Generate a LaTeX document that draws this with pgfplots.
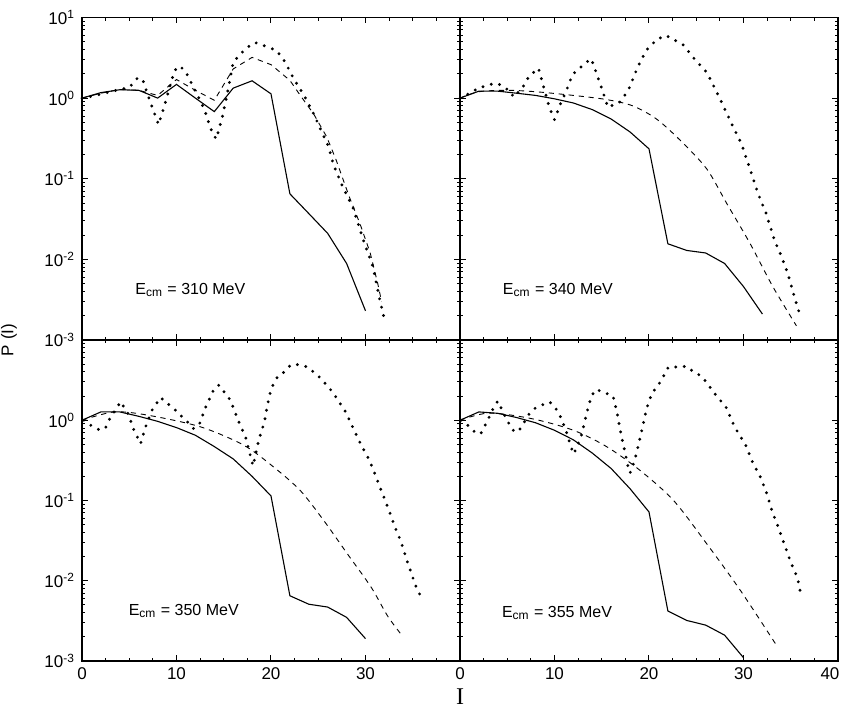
\documentclass[border=0pt]{standalone}
\usepackage{pgfplots}
\pgfplotsset{compat=1.18}
\usepackage{fontspec}
\setmainfont{Liberation Sans}
\newfontfamily\seriffont{Liberation Serif}
\pgfkeys{/pgf/number format/assume math mode=true}
\pgfplotsset{
  every axis/.append style={
    scale only axis, width=189pt,
    xmin=0, xmax=40, ymin=1e-3, ymax=10,
    xtick={0,10,20,30,40}, minor x tick num=3,
    ytick={1e-3,1e-2,1e-1,1,10},
    tick align=inside, major tick length=3pt, minor tick length=1.6pt,
    axis line style={line width=0.75pt},
    tick style={black, line width=0.5pt},
    tick label style={font=\fontsize{8.5}{10}\selectfont},
    clip=false,
  },
}
\tikzset{
  mysol/.style={black, line width=0.55pt},
  mydsh/.style={black, line width=0.45pt, dash pattern=on 2.6pt off 2.4pt},
  mydot/.style={black, line width=1.6pt, line cap=round, dash pattern=on 0pt off 4.3pt},
}
\newcommand{\lab}[1]{\fontsize{8}{10}\selectfont E\textsubscript{cm} = #1 MeV}
\begin{document}
\begin{tikzpicture}
\useasboundingbox (0,0) rectangle (421.5pt,-357.5pt);
% ---------------- top left: 310 MeV
\begin{semilogyaxis}[height=161.25pt, at={(41pt,-170pt)}, anchor=south west,
  xticklabels={},
  yticklabels={10\textsuperscript{-3},10\textsuperscript{-2},10\textsuperscript{-1},10\textsuperscript{0},10\textsuperscript{1}}]
\addplot[mysol, no marks] coordinates {(0,1.0)(2,1.17)(4,1.27)(6,1.25)(7,1.12)(8,1.0)(10,1.48)(12,1.0)(14,0.68)(16,1.33)(18,1.64)(20,1.13)(22,0.065)(24,0.037)(26,0.021)(28,0.0089)(30,0.0023)};
\addplot[mydsh, no marks] coordinates {(0,1.0)(2,1.15)(4,1.28)(6,1.25)(8,1.08)(10,1.7)(12,1.25)(14,0.94)(16,2.3)(18,3.2)(20,2.6)(22,1.66)(23.1,1.08)(24.5,0.64)(25.9,0.33)(26.9,0.17)(28.3,0.059)(29.4,0.028)(30.5,0.012)(31.3,0.005)(31.7,0.003)};
\addplot[mydot, no marks] coordinates {(0,1.0)(1,1.05)(2,1.12)(3,1.2)(4,1.28)(5,1.35)(5.8,1.74)(6.4,1.74)(6.9,1.15)(7.4,0.79)(8.1,0.47)(8.7,0.79)(9.3,1.4)(9.8,2.2)(10.3,2.5)(10.9,2.2)(11.5,1.6)(12.2,1.1)(13,0.7)(13.6,0.42)(14.2,0.31)(14.8,0.55)(15.3,1.03)(15.7,1.8)(16.0,2.8)(17.3,4.1)(18.3,4.9)(19.2,4.5)(20.6,3.9)(21.5,2.8)(22.4,1.74)(23.6,1.03)(24.6,0.61)(25.2,0.42)(26.1,0.25)(26.6,0.15)(27.6,0.079)(28.7,0.043)(29.8,0.017)(30.8,0.008)(31.5,0.0032)(32,0.0018)};
\node[anchor=west] at (axis cs:4.9,0.0042) {\lab{310}};
\end{semilogyaxis}
% ---------------- top right: 340 MeV
\begin{semilogyaxis}[height=161.25pt, at={(230pt,-170pt)}, anchor=south west,
  xticklabels={}, yticklabels={}]
\addplot[mysol, no marks] coordinates {(0,1.0)(2,1.22)(4,1.22)(6,1.15)(8,1.08)(10,0.98)(12,0.87)(14,0.72)(16,0.55)(18,0.38)(20,0.235)(22,0.0156)(24,0.0129)(26,0.012)(28,0.0089)(30,0.0046)(32,0.0021)};
\addplot[mydsh, no marks, smooth] coordinates {(0,1.0)(2,1.2)(5,1.25)(8,1.2)(12,1.08)(15.5,0.96)(18.3,0.8)(20.8,0.55)(23.3,0.3)(26.1,0.133)(28.2,0.05)(30.7,0.0157)(33.1,0.0046)(35.6,0.0015)};
\addplot[mydot, no marks] coordinates {(0,1.0)(0.9,1.13)(2.0,1.34)(3.7,1.53)(4.3,1.46)(5.4,1.19)(5.65,1.03)(6.6,1.34)(7.3,1.86)(8.3,2.35)(8.8,1.44)(9.5,0.74)(10.0,0.54)(10.7,0.89)(11.2,1.19)(11.9,1.96)(13.4,2.8)(13.9,3.07)(14.4,2.1)(15.1,1.22)(15.65,0.77)(16.9,0.89)(17.8,1.24)(18.8,2.42)(19.7,3.9)(20.8,5.3)(21.8,6.0)(23.6,4.6)(24.8,3.07)(26.1,2.1)(27.0,1.3)(28.0,0.74)(28.9,0.44)(29.8,0.27)(30.8,0.12)(31.55,0.065)(32.4,0.037)(33.3,0.017)(34.0,0.011)(34.7,0.0066)(35.4,0.0034)(36.0,0.002)};
\node[anchor=west] at (axis cs:3.8,0.0042) {\lab{340}};
\end{semilogyaxis}
% ---------------- bottom left: 350 MeV
\begin{semilogyaxis}[height=160.5pt, at={(41pt,-170pt)}, anchor=north west,
  xticklabels={0,10,20,30,},
  yticklabels={10\textsuperscript{-3},10\textsuperscript{-2},10\textsuperscript{-1},10\textsuperscript{0},}]
\addplot[mysol, no marks] coordinates {(0,1.0)(2,1.27)(4,1.27)(6,1.12)(8,0.97)(10,0.81)(12,0.65)(14,0.47)(16,0.33)(18,0.2)(20,0.114)(22,0.0065)(24,0.0051)(26,0.0047)(28,0.0035)(30,0.0019)};
\addplot[mydsh, no marks, smooth] coordinates {(0,1.0)(3.4,1.27)(6.9,1.16)(12.5,0.83)(17.1,0.49)(20.3,0.26)(23.1,0.133)(25.6,0.056)(28.1,0.0215)(30.6,0.0083)(32.3,0.0037)(33.7,0.0022)};
\addplot[mydot, no marks] coordinates {(0.2,1.0)(0.9,0.87)(1.9,0.75)(2.5,0.81)(3.0,1.08)(4.1,1.7)(4.9,1.19)(5.5,0.75)(6.2,0.51)(6.7,0.81)(7.4,1.33)(8.3,1.92)(9.7,1.4)(11.5,0.87)(11.8,0.79)(12.4,0.88)(13.1,1.47)(14.0,2.49)(14.5,2.74)(15.7,1.78)(16.6,0.95)(17.3,0.62)(18.1,0.27)(18.7,0.56)(19.3,0.95)(19.8,1.96)(20.1,2.6)(20.7,3.5)(21.2,3.8)(22.1,4.9)(22.6,5.0)(23.9,4.6)(25.3,3.3)(26.5,2.26)(27.9,1.27)(28.4,0.95)(29.3,0.56)(30.4,0.32)(30.9,0.23)(31.6,0.14)(32.5,0.075)(33.2,0.044)(33.7,0.032)(34.45,0.017)(35.3,0.0087)(35.9,0.0062)};
\node[anchor=west] at (axis cs:4.2,0.0042) {\lab{350}};
\end{semilogyaxis}
% ---------------- bottom right: 355 MeV
\begin{semilogyaxis}[height=160.5pt, at={(230pt,-170pt)}, anchor=north west,
  xticklabels={0,10,20,30,\hspace*{-8pt}40}, yticklabels={}]
\addplot[mysol, no marks] coordinates {(0,1.0)(2,1.27)(4,1.22)(6,1.08)(8,0.93)(10,0.75)(12,0.57)(14,0.39)(16,0.25)(18,0.14)(20,0.072)(22,0.0042)(24,0.0032)(26,0.0028)(28,0.0021)(30,0.0011)};
\addplot[mydsh, no marks, smooth] coordinates {(0,1.0)(3.1,1.23)(7.7,1.04)(12,0.75)(15.5,0.47)(19,0.24)(22.6,0.1)(26.1,0.029)(29.7,0.0075)(33.6,0.0015)};
\addplot[mydot, no marks] coordinates {(0.1,1.0)(0.8,0.87)(1.7,0.69)(2.2,0.68)(2.8,0.93)(3.6,1.47)(4.0,1.73)(4.5,1.3)(5.4,0.81)(5.8,0.71)(6.3,0.76)(7.4,1.24)(7.9,1.4)(9.0,1.61)(9.5,1.69)(10.0,1.47)(10.5,1.21)(11.2,0.75)(12.0,0.38)(12.3,0.44)(12.85,0.65)(13.4,1.21)(13.9,2.0)(14.4,2.42)(15.1,2.26)(16.2,2.0)(16.6,1.27)(17.1,0.62)(17.8,0.26)(18.0,0.22)(18.5,0.32)(19.2,0.71)(19.75,1.4)(20.3,2.15)(21.2,3.0)(22.05,4.6)(22.8,4.6)(24.0,4.7)(24.5,4.2)(25.6,3.5)(26.1,2.95)(27.2,1.96)(28.1,1.5)(29.1,0.81)(30.2,0.5)(30.9,0.31)(31.8,0.195)(32.5,0.119)(33.0,0.075)(33.7,0.046)(34.3,0.029)(35.0,0.017)(35.7,0.011)(36.0,0.0075)};
\node[anchor=west] at (axis cs:3.7,0.004) {\lab{355}};
\end{semilogyaxis}
\node[rotate=90, font=\fontsize{8.5}{10}\selectfont] at (4.5pt,-170pt) {P (I)};
\node[font=\seriffont\fontsize{12}{14}\selectfont] at (230pt,-348.5pt) {I};
\end{tikzpicture}
\end{document}
